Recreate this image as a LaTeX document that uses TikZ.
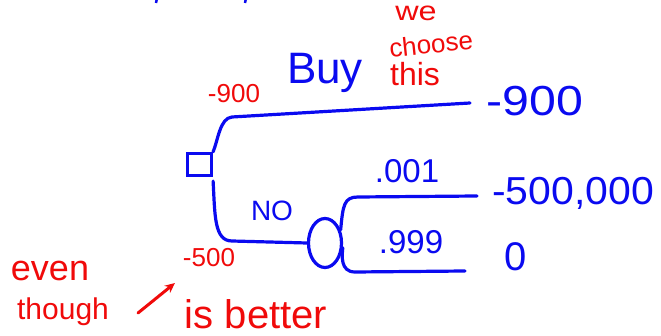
\documentclass[tikz,border=0pt]{standalone}
\usepackage{fontspec}
\setmainfont{Liberation Sans}
\usetikzlibrary{arrows.meta,shapes.geometric}
\definecolor{ink}{RGB}{10,10,240}
\definecolor{pen}{RGB}{240,10,10}
\begin{document}
\begin{tikzpicture}[x=1pt,y=-1pt,
  wire/.style={draw=ink,line width=3.2pt,line cap=round,line join=round},
  blue/.style={text=ink,inner sep=0pt,anchor=center},
  red/.style={text=pen,inner sep=0pt,anchor=center}]
\useasboundingbox (0,0) rectangle (661,336);
% cut-off fragments at top edge
\draw[ink,line width=2.5pt] (157,-2) -- (156,3);
\draw[ink,line width=2.5pt] (246,-2) -- (245,3);
% decision node
\node[draw=ink,line width=3.2pt,minimum width=24pt,minimum height=22pt,inner sep=0pt] (dec) at (199.5,164.5) {};
% chance node
\node[draw=ink,line width=3.2pt,ellipse,minimum width=33pt,minimum height=49pt,inner sep=0pt] (ch) at (325,243) {};
% end points
\coordinate (eBuy) at (470,103);
\coordinate (eHit) at (477,196);
\coordinate (eOk) at (465,271);
% branches
\path[wire] (dec.north east) .. controls (218,140) and (220,118) .. (232,117) -- (eBuy);
\path[wire] (dec.south east) ++(0,4) .. controls (215,215) and (214,241) .. (232,241) -- (ch.west);
\path[wire] (ch.40) .. controls (343,205) and (344,197) .. (358,197) -- (eHit);
\path[wire] (ch.-15) .. controls (342,255) and (340,272) .. (355,272) -- (eOk);
% blue labels
\node[blue,font=\fontsize{44}{44}\selectfont] (buy) at (325,73) {Buy};
\node[blue,font=\fontsize{42}{42}\selectfont,xscale=1.15] (v1) at (535,101) {-900};
\node[blue,font=\fontsize{33}{33}\selectfont] (p1) at (407,171) {.001};
\node[blue,font=\fontsize{39}{39}\selectfont,xscale=1.05] (v2) at (573,193) {-500,000};
\node[blue,font=\fontsize{28}{28}\selectfont] (no) at (272,211) {NO};
\node[blue,font=\fontsize{33}{33}\selectfont] (p2) at (411,242) {.999};
\node[blue,font=\fontsize{40}{40}\selectfont] (v3) at (516,257) {0};
% red labels
\node[red,font=\fontsize{27}{27}\selectfont,xscale=1.2] (we) at (416,13) {we};
\node[red,font=\fontsize{26}{26}\selectfont,rotate=6] (choose) at (431,44) {choose};
\node[red,font=\fontsize{32}{32}\selectfont] (this) at (415,74) {this};
\node[red,font=\fontsize{26}{26}\selectfont] (m900) at (234,94) {-900};
\node[red,font=\fontsize{26}{26}\selectfont] (m500) at (209,258) {-500};
\node[red,font=\fontsize{36}{36}\selectfont] (even) at (50,271) {even};
\node[red,font=\fontsize{30}{30}\selectfont] (though) at (63,312) {though};
\node[red,font=\fontsize{40}{40}\selectfont] (better) at (256,314) {is better};
\coordinate (aS) at (138,313);
\coordinate (aE) at (175,283);
\draw[pen,line width=3pt,line cap=round,-{Stealth[length=10pt,width=9pt]}] (aS) -- (aE);
\end{tikzpicture}
\end{document}
